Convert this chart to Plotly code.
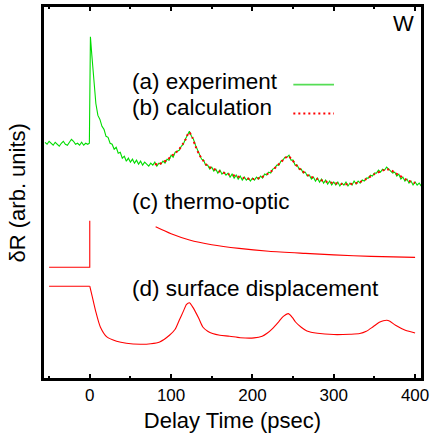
import plotly.graph_objects as go

# ---- data (arbitrary units) ----
exp_time = [-55, -52.5, -50, -47.5, -45, -42.5, -40, -37.5, -35, -32.5, -30, -27.5, -25, -22.5, -20, -17.5,
            -15, -12.5, -10, -7.5, -5, -2.5, -0.5, 0.8, 2.5, 5, 7.5, 10, 12.5, 15, 17.5, 20, 22.5, 25, 27.5,
            30, 32.5, 35, 37.5, 40, 42.5, 45, 47.5, 50, 52.5, 55, 57.5, 60, 62.5, 65, 67.5, 70, 72.5, 75,
            77.5, 80, 82.5, 85, 87.5, 90, 92.5, 95, 97.5, 100, 102.5, 105, 107.5, 110, 112.5, 115, 117.5,
            120, 122.5, 125, 127.5, 130, 132.5, 135, 137.5, 140, 142.5, 145, 147.5, 150, 152.5, 155, 157.5,
            160, 162.5, 165, 167.5, 170, 172.5, 175, 177.5, 180, 182.5, 185, 187.5, 190, 192.5, 195, 197.5,
            200, 202.5, 205, 207.5, 210, 212.5, 215, 217.5, 220, 222.5, 225, 227.5, 230, 232.5, 235, 237.5,
            240, 242.5, 245, 247.5, 250, 252.5, 255, 257.5, 260, 262.5, 265, 267.5, 270, 272.5, 275, 277.5,
            280, 282.5, 285, 287.5, 290, 292.5, 295, 297.5, 300, 302.5, 305, 307.5, 310, 312.5, 315, 317.5,
            320, 322.5, 325, 327.5, 330, 332.5, 335, 337.5, 340, 342.5, 345, 347.5, 350, 352.5, 355, 357.5,
            360, 362.5, 365, 367.5, 370, 372.5, 375, 377.5, 380, 382.5, 385, 387.5, 390, 392.5, 395, 397.5,
            400, 402.5, 405, 407.5, 409]
exp_signal = [239, 237, 240, 238, 236, 239, 237, 235, 238, 240, 237, 236, 239, 242, 240, 237,
              238, 236, 239, 236, 238, 237, 238, 345, 327, 301, 278, 266, 262, 255, 252, 245, 244, 238, 237,
              232, 234, 228, 229, 223, 225, 220, 223, 219, 222, 218, 221, 217, 220, 216, 219, 217, 215, 218,
              216, 219, 215, 218, 217, 220, 218, 222, 221, 226, 224, 229, 230, 231, 235, 237, 242,
              246, 250, 245, 242, 236, 231, 227, 222, 221, 216, 216, 212, 214, 210, 212, 208,
              211, 207, 209, 206, 208, 204, 207, 203, 206, 202, 205, 201, 204, 201, 203, 200,
              203, 201, 204, 202, 205, 203, 207, 206, 209, 208, 212, 213, 216, 216, 220, 221,
              224, 224, 226, 221, 221, 216, 216, 212, 212, 208, 209, 205, 206, 202, 204, 200,
              203, 199, 202, 198, 201, 197, 200, 196, 199, 196, 199, 195, 198, 196, 199, 195,
              198, 196, 200, 197, 200, 198, 201, 200, 203, 203, 206, 205, 208, 208, 211, 209,
              212, 211, 214, 212, 211, 208, 209, 205, 207, 202, 204, 200, 202, 198, 200, 196,
              199, 196, 198, 195, 197]

calc_time = [80, 85, 90, 95, 100, 105, 110, 115, 118, 122, 126, 130, 135, 140, 145, 150, 160, 170, 180,
             190, 200, 210, 220, 225, 230, 235, 240, 244, 248, 252, 256, 260, 270, 280, 290, 300, 310,
             320, 330, 340, 350, 360, 365, 370, 375, 380, 390, 400]
calc_signal = [217, 217, 219, 221, 225, 228, 232, 238, 242, 249, 244, 235, 226, 220, 215, 213, 209.5,
               207, 205, 203, 202, 203.5, 208, 211, 215, 219, 223, 225, 222, 218, 214, 211, 205, 202,
               199.5, 198, 197, 197, 198.5, 202, 207, 210.5, 212, 211, 208.5, 206, 201, 198]

thermo_step_time = [-50, 0, 0]
thermo_step_signal = [113.3, 113.3, 160]
thermo_decay_time = [81, 100, 122.6, 150, 183.6, 220, 265, 300, 346, 400]
thermo_decay_signal = [154, 147, 140.7, 136, 132.3, 129.5, 127.3, 125.8, 124.3, 123.3]

surf_flat_time = [-50, 0]
surf_flat_signal = [94.3, 94.3]
surf_time = [0, 3, 7, 13, 21, 33, 45, 62, 75, 86, 98, 105, 110, 115, 119, 122.6, 126, 129, 134,
             139, 145, 151, 160, 172, 185, 202, 212, 218, 225, 232, 238, 244, 249, 253, 260, 267, 280,
             300, 320, 332, 340, 348, 356, 361, 365, 369, 376, 388, 400]
surf_signal = [94.3, 84, 70, 53.3, 43.3, 39, 37, 36, 36.5, 38.3, 45, 51, 60, 69, 76, 77.7, 74,
               70, 62, 53.3, 49, 46.7, 45, 44, 42.5, 42.3, 44, 47, 52, 58.3, 64, 66.7, 63, 58.3, 53,
               49.3, 47, 45.7, 46, 46.7, 49, 53.3, 58, 59.5, 60, 59, 55, 50, 47.3]

x_tick_vals = [0, 100, 200, 300, 400]
labels = ["(a) experiment", "(b) calculation", "(c) thermo-optic", "(d) surface displacement"]
label_y = [300, 274, 179, 92]

GREEN = "#00dc00"
RED = "#ff0000"
FONT = "Liberation Sans, Arial, Helvetica, sans-serif"

fig = go.Figure()
fig.add_trace(go.Scatter(x=exp_time, y=exp_signal, mode="lines",
                         line=dict(color=GREEN, width=1.1), showlegend=False))
fig.add_trace(go.Scatter(x=calc_time, y=calc_signal, mode="lines",
                         line=dict(color=RED, width=2, dash="2px,3px", shape="spline", smoothing=0.8),
                         showlegend=False))
fig.add_trace(go.Scatter(x=thermo_step_time, y=thermo_step_signal, mode="lines",
                         line=dict(color=RED, width=1.1), showlegend=False))
fig.add_trace(go.Scatter(x=thermo_decay_time, y=thermo_decay_signal, mode="lines",
                         line=dict(color=RED, width=1.1, shape="spline", smoothing=0.8), showlegend=False))
fig.add_trace(go.Scatter(x=surf_flat_time, y=surf_flat_signal, mode="lines",
                         line=dict(color=RED, width=1.1), showlegend=False))
fig.add_trace(go.Scatter(x=surf_time, y=surf_signal, mode="lines",
                         line=dict(color=RED, width=1.1, shape="spline", smoothing=0.7), showlegend=False))

# text labels
for txt, yv in zip(labels, label_y):
    fig.add_annotation(x=50, y=yv, xref="x", yref="y", text=txt, showarrow=False,
                       xanchor="left", yanchor="middle", font=dict(size=22.5, color="black", family=FONT))
fig.add_annotation(x=386, y=358, xref="x", yref="y", text="W", showarrow=False,
                   xanchor="center", yanchor="middle", font=dict(size=22, color="black", family=FONT))
fig.add_annotation(x=-0.066, y=0.5, xref="paper", yref="paper", text="δR (arb. units)", textangle=-90,
                   showarrow=False, xanchor="center", yanchor="middle",
                   font=dict(size=22, color="black", family=FONT))

# legend sample lines
fig.add_shape(type="line", xref="paper", yref="paper", x0=0.6605, x1=0.7678, y0=0.7893, y1=0.7893,
              line=dict(color="#55dd55", width=1.6))
fig.add_shape(type="line", xref="paper", yref="paper", x0=0.6605, x1=0.7678, y0=0.712, y1=0.712,
              line=dict(color=RED, width=2, dash="2px,3px"))
# plot frame
fig.add_shape(type="rect", xref="paper", yref="paper", x0=0, x1=1, y0=0, y1=1,
              line=dict(color="black", width=2), layer="above")

fig.update_layout(
    width=433, height=441,
    margin=dict(l=43, r=8, t=4, b=62),
    paper_bgcolor="white", plot_bgcolor="white",
    font=dict(family=FONT, color="black"),
    xaxis=dict(range=[-57.5, 408.5], tickvals=x_tick_vals, ticks="inside", ticklen=5, tickwidth=1.5,
               tickcolor="black", showline=True, linewidth=2, linecolor="black", mirror="ticks",
               showgrid=False, zeroline=False, tickfont=dict(size=17, family=FONT),
               minor=dict(dtick=50, tick0=0, ticks="inside", ticklen=3, tickwidth=1.5, tickcolor="black",
                          showgrid=False),
               title=dict(text="Delay Time (psec)", font=dict(size=22, family=FONT), standoff=8)),
    yaxis=dict(range=[1, 376], showticklabels=False, ticks="", showline=True, linewidth=2,
               linecolor="black", mirror=True, showgrid=False, zeroline=False),
)

fig.write_html("out.html", config={"displayModeBar": False},
               post_script="document.body.style.margin='0px';document.body.style.overflow='hidden';")
